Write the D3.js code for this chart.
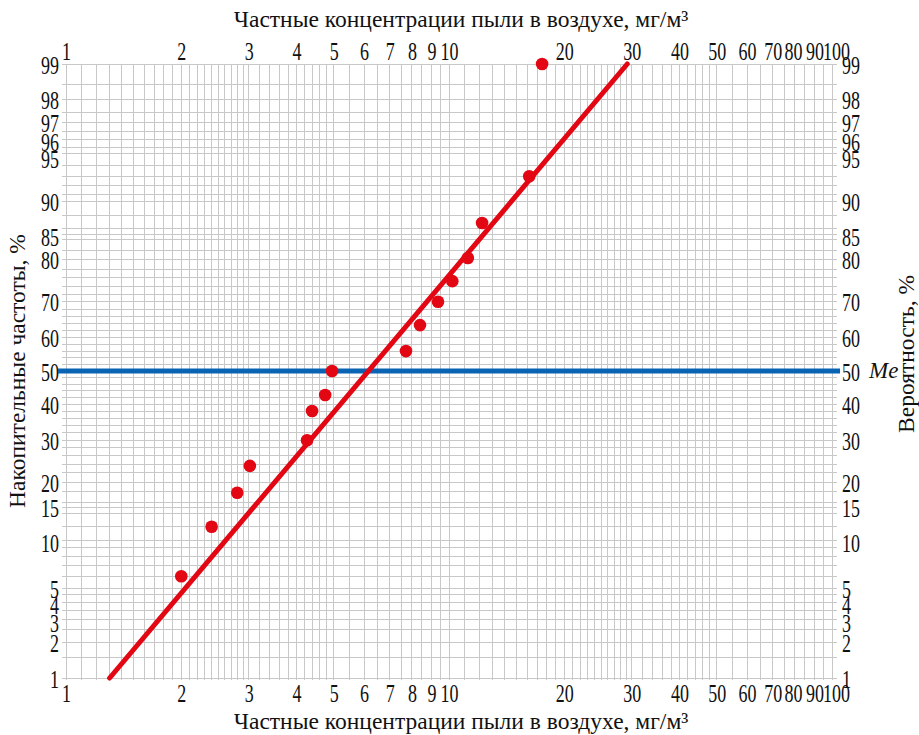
<!DOCTYPE html>
<html>
<head>
<meta charset="utf-8">
<script src="https://cdn.jsdelivr.net/npm/d3@7"></script>
<style>
  html, body { margin: 0; padding: 0; background: #fff; }
  svg { display: block; }
  text { font-family: "Liberation Serif", "DejaVu Serif", serif; fill: #111; }
</style>
</head>
<body>
<svg id="chart" width="919" height="735"></svg>
<script>
// Concentration of dust (mg/m³) on log probability paper
const concX = [2.0, 2.4, 2.8, 3.02, 4.26, 4.39, 4.75, 4.95, 7.72, 8.4, 9.36, 10.2, 11.2, 12.2, 16.2, 17.5];
const cumP  = [6.0, 11.9, 17.8, 23.6, 30.0, 38.1, 42.8, 50.0, 56.0, 63.6, 70.0, 75.2, 80.4, 86.9, 93.0, 99.0];

// Fitted log-normal line: 1% at 1.3 mg/m³, 99% at 29.2 mg/m³
const fitX = [1.3, 29.2];
const fitP = [1, 99];

// Median level
const medianP = 50;

// Tick labels
const xTicks = [1, 2, 3, 4, 5, 6, 7, 8, 9, 10, 20, 30, 40, 50, 60, 70, 80, 90, 100];
const pTicks = [1, 2, 3, 4, 5, 10, 15, 20, 30, 40, 50, 60, 70, 80, 85, 90, 95, 96, 97, 98, 99];

// Grid lines
const xGrid = [].concat(
  d3.range(1, 3, 0.1), d3.range(3, 5, 0.2), d3.range(5, 10, 0.5),
  d3.range(10, 30, 1), d3.range(30, 50, 2), d3.range(50, 100.01, 5)
);
const pGrid = [1, 1.5, 2, 2.5, 3, 3.5, 4, 4.5, 5, 6, 7, 8, 9, 10, 12, 14, 15, 16, 18]
  .concat(d3.range(20, 90, 2), [85, 90, 91, 92, 93, 94, 95, 95.5, 96, 96.5, 97, 97.5, 98, 98.5, 99]);

// Inverse standard normal CDF (Acklam)
function probit(p) {
  const a = [-3.969683028665376e+01, 2.209460984245205e+02, -2.759285104469687e+02,
             1.383577518672690e+02, -3.066479806614716e+01, 2.506628277459239e+00];
  const b = [-5.447609879822406e+01, 1.615858368580409e+02, -1.556989798598866e+02,
             6.680131188771972e+01, -1.328068155288572e+01];
  const c = [-7.784894002430293e-03, -3.223964580411365e-01, -2.400758277161838e+00,
             -2.549671010241995e+00, 4.374664141464968e+00, 2.938163982698783e+00];
  const d = [7.784695709041462e-03, 3.224671290700398e-01, 2.445134137142996e+00,
             3.754408661907416e+00];
  const pl = 0.02425, ph = 1 - pl;
  let q, r;
  if (p < pl) {
    q = Math.sqrt(-2 * Math.log(p));
    return (((((c[0]*q+c[1])*q+c[2])*q+c[3])*q+c[4])*q+c[5]) / ((((d[0]*q+d[1])*q+d[2])*q+d[3])*q+1);
  } else if (p <= ph) {
    q = p - 0.5; r = q * q;
    return (((((a[0]*r+a[1])*r+a[2])*r+a[3])*r+a[4])*r+a[5])*q / (((((b[0]*r+b[1])*r+b[2])*r+b[3])*r+b[4])*r+1);
  } else {
    q = Math.sqrt(-2 * Math.log(1 - p));
    return -(((((c[0]*q+c[1])*q+c[2])*q+c[3])*q+c[4])*q+c[5]) / ((((d[0]*q+d[1])*q+d[2])*q+d[3])*q+1);
  }
}
const zOf = p => probit(p / 100);

const plotL = 66, plotR = 832, plotT = 64, plotB = 678;

const x = d3.scaleLog().domain([1, 100]).range([plotL, plotR]);
const y = d3.scaleLinear().domain([zOf(1), zOf(99)]).range([plotB, plotT]);
const yP = p => y(zOf(p));

const svg = d3.select("#chart");

// Grid
const grid = svg.append("g").attr("stroke", "#c8c8c8").attr("stroke-width", 1).attr("shape-rendering", "crispEdges");
grid.selectAll("line.v").data(xGrid).join("line")
  .attr("class", "v")
  .attr("x1", d => x(d)).attr("x2", d => x(d))
  .attr("y1", plotT).attr("y2", plotB + 2);
grid.selectAll("line.h").data(pGrid).join("line")
  .attr("class", "h")
  .attr("x1", plotL - 4).attr("x2", plotR + 5)
  .attr("y1", d => yP(d)).attr("y2", d => yP(d));

// Axes: narrow serif numerals
const squeeze = 0.72;
const fmt = d => String(d);
function styleAxis(g) {
  g.select(".domain").remove();
  g.selectAll(".tick line").remove();
  g.selectAll(".tick text")
    .attr("font-family", "Liberation Serif").attr("font-size", 25).attr("fill", "#111")
    .attr("transform", `scale(${squeeze},1)`);
}
// keep crowded labels apart
const xNudge = new Map([[100, 4], [90, 0], [80, -2]]);
const yNudge = new Map([[95, 5], [96, 2], [4, 2], [3, 3], [85, 2], [10, 2]]);
function nudgeX(g) {
  g.selectAll(".tick text").attr("x", d => (xNudge.get(d) || 0) / squeeze);
}
function nudgeY(g) {
  g.selectAll(".tick text").attr("y", v => yNudge.get(pByZ.get(v)) || 0).attr("dy", "0.36em");
}

svg.append("g").attr("transform", `translate(0,${plotT - 4})`)
  .call(d3.axisTop(x).tickValues(xTicks).tickFormat(fmt).tickSize(0).tickPadding(0))
  .call(styleAxis).call(nudgeX);
svg.append("g").attr("transform", `translate(0,${plotB + 6})`)
  .call(d3.axisBottom(x).tickValues(xTicks).tickFormat(fmt).tickSize(0).tickPadding(0))
  .call(styleAxis).call(nudgeX);

const zTicks = pTicks.map(zOf);
const pByZ = new Map(zTicks.map((v, i) => [v, pTicks[i]]));
svg.append("g").attr("transform", `translate(${plotL - 7},0)`)
  .call(d3.axisLeft(y).tickValues(zTicks).tickFormat(v => pByZ.get(v)).tickSize(0).tickPadding(0))
  .call(styleAxis).call(nudgeY);
svg.append("g").attr("transform", `translate(${plotR + 10},0)`)
  .call(d3.axisRight(y).tickValues(zTicks).tickFormat(v => pByZ.get(v)).tickSize(0).tickPadding(0))
  .call(styleAxis).call(nudgeY);

// Median line
svg.append("line")
  .attr("x1", plotL - 8).attr("x2", plotR + 8)
  .attr("y1", yP(medianP)).attr("y2", yP(medianP))
  .attr("stroke", "#0a64b4").attr("stroke-width", 5);

svg.append("text")
  .attr("x", 869).attr("y", yP(medianP) + 7)
  .attr("font-size", 23).attr("font-style", "italic")
  .text("Me");

// Fitted line
svg.append("line")
  .attr("x1", x(fitX[0])).attr("y1", yP(fitP[0]))
  .attr("x2", x(fitX[1])).attr("y2", yP(fitP[1]))
  .attr("stroke", "#e30613").attr("stroke-width", 5).attr("stroke-linecap", "round");

// Observed points
svg.append("g").selectAll("circle").data(concX).join("circle")
  .attr("cx", d => x(d))
  .attr("cy", (d, i) => yP(cumP[i]))
  .attr("r", 6.3)
  .attr("fill", "#e30613");

// Titles
const xTitle = "Частные концентрации пыли в воздухе, мг/м³";
svg.append("text").attr("x", 461).attr("y", 27).attr("text-anchor", "middle")
  .attr("font-size", 23.5).text(xTitle);
svg.append("text").attr("x", 461).attr("y", 729).attr("text-anchor", "middle")
  .attr("font-size", 23.5).text(xTitle);

svg.append("text")
  .attr("transform", `translate(25,371) rotate(-90)`)
  .attr("text-anchor", "middle").attr("font-size", 23.5)
  .text("Накопительные частоты, %");
svg.append("text")
  .attr("transform", `translate(914,354) rotate(-90)`)
  .attr("text-anchor", "middle").attr("font-size", 23.5)
  .text("Вероятность, %");
</script>
</body>
</html>
